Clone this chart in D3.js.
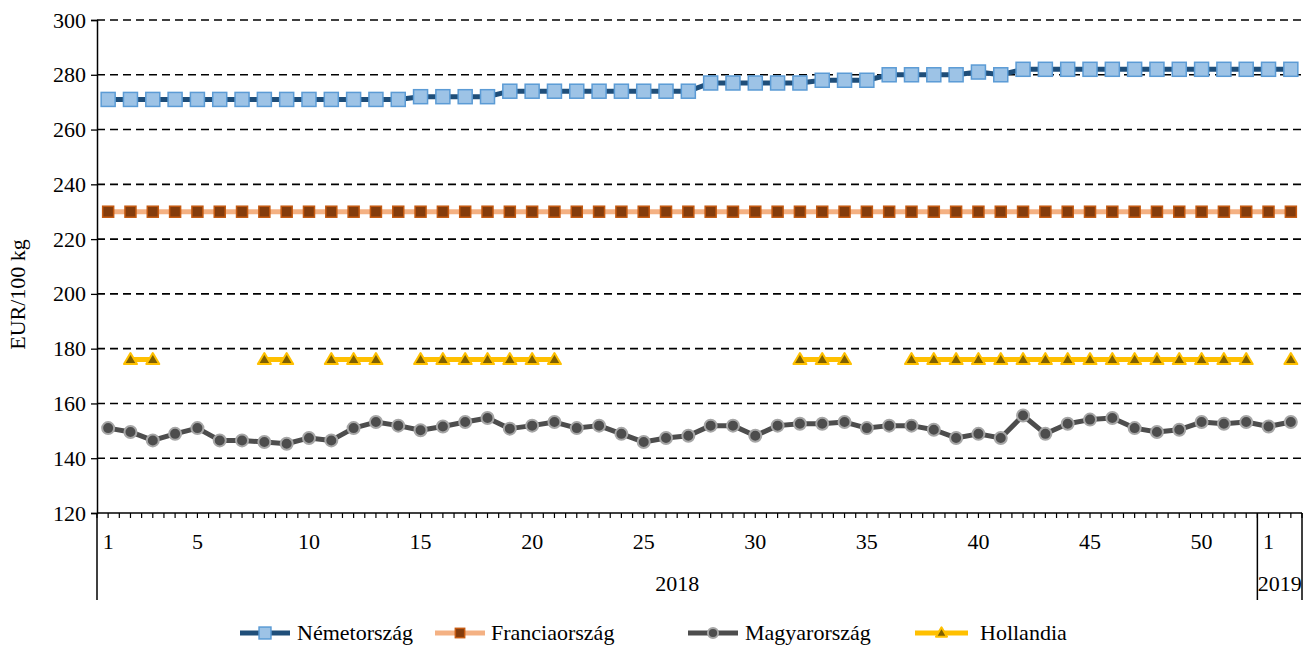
<!DOCTYPE html>
<html><head><meta charset="utf-8">
<script src="https://cdn.jsdelivr.net/npm/d3@7"></script>
<style>
html,body{margin:0;padding:0;background:#fff;}
svg text{font-family:"Liberation Serif","Times New Roman","DejaVu Serif",serif !important;fill:#000;}
</style></head>
<body><svg id="c" width="1305" height="647"></svg>
<script>
// ---- data ----
const yearLabels = ["2018", "2019"];
const yearWeekCounts = [52, 2];
const weekNumbers = [1,2,3,4,5,6,7,8,9,10,11,12,13,14,15,16,17,18,19,20,21,22,23,24,25,26,
  27,28,29,30,31,32,33,34,35,36,37,38,39,40,41,42,43,44,45,46,47,48,49,50,51,52,1,2];
const shownWeekLabels = ["1","5","10","15","20","25","30","35","40","45","50","1",""];
const yTicks = [120,140,160,180,200,220,240,260,280,300];

const germany = [271,271,271,271,271,271,271,271,271,271,271,271,271,271,
  272,272,272,272,274,274,274,274,274,274,274,274,274,277,277,277,277,277,
  278,278,278,280,280,280,280,281,280,282,282,282,282,282,282,282,282,282,282,282,282,282];
const france = [230,230,230,230,230,230,230,230,230,230,230,230,230,230,230,230,230,230,
  230,230,230,230,230,230,230,230,230,230,230,230,230,230,230,230,230,230,
  230,230,230,230,230,230,230,230,230,230,230,230,230,230,230,230,230,230];
const hungary = [151.0,149.6,146.5,148.9,151.0,146.5,146.5,145.9,145.3,147.4,
  146.5,151.0,153.2,151.9,150.2,151.6,153.2,154.7,150.8,151.9,
  153.2,151.0,151.9,148.9,145.9,147.4,148.2,151.9,151.9,148.2,
  151.9,152.6,152.6,153.2,151.0,151.9,151.9,150.4,147.4,148.9,
  147.4,155.6,148.9,152.6,154.1,154.7,151.0,149.6,150.4,153.2,
  152.6,153.2,151.6,153.2];
const netherlands = [null,176,176,null,null,null,null,176,176,null,176,176,176,null,
  176,176,176,176,176,176,176,null,null,null,null,null,null,null,null,null,null,
  176,176,176,null,null,176,176,176,176,176,176,176,176,176,176,176,176,176,176,176,176,null,176];

const seriesNames = ["Németország","Franciaország","Magyarország","Hollandia"];

// ---- layout ----
const FS = "22px";
const svg = d3.select("#c");
const L = 97, R = 1302, T = 20, B = 513;
const idx = d3.range(weekNumbers.length);
const x = d3.scaleBand().domain(idx).range([L, R]).paddingInner(0).paddingOuter(0);
const cx = i => x(i) + x.bandwidth() / 2;
const y = d3.scaleLinear().domain([120, 300]).range([B, T]);

// gridlines
svg.append("g").selectAll("line").data(yTicks.filter(v => v > 120)).join("line")
  .attr("x1", L).attr("x2", R).attr("y1", d => y(d)).attr("y2", d => y(d))
  .attr("stroke", "#000").attr("stroke-width", 1.6).attr("stroke-dasharray", "8,5");

// y axis
const yAxis = svg.append("g").attr("transform", `translate(${L},0)`)
  .call(d3.axisLeft(y).tickValues(yTicks).tickSize(6).tickPadding(5));
yAxis.attr("font-family", null).attr("font-size", null);
yAxis.select(".domain").attr("stroke", "#000").attr("stroke-width", 1.5);
yAxis.selectAll(".tick line").attr("stroke", "#000").attr("stroke-width", 1.3);
yAxis.selectAll("text").style("font-size", FS);

svg.append("text").attr("transform", `translate(25,${(T + B) / 2 + 28}) rotate(-90)`)
  .attr("text-anchor", "middle").style("font-size", FS).text("EUR/100 kg");

// x axis
const xg = svg.append("g");
xg.append("line").attr("x1", L).attr("x2", R).attr("y1", B).attr("y2", B)
  .attr("stroke", "#000").attr("stroke-width", 1.5);
const half = x.bandwidth() / 2;
const tickPos = d3.range(idx.length * 2 + 1).map(k => L + k * half);
xg.selectAll("line.t").data(tickPos).join("line").attr("class", "t")
  .attr("x1", d => d).attr("x2", d => d).attr("y1", B).attr("y2", B + 5)
  .attr("stroke", "#000").attr("stroke-width", 1.2);
// week labels
let labelCursor = 0;
idx.forEach(i => {
  const w = weekNumbers[i];
  if (w === 1 || w % 5 === 0) {
    xg.append("text").attr("x", cx(i)).attr("y", 549).attr("text-anchor", "middle")
      .style("font-size", FS).text(shownWeekLabels[labelCursor++]);
  }
});
// year groups
let start = 0;
const sepXs = [L];
yearLabels.forEach((yl, k) => {
  const x0 = x(start), x1 = x(start + yearWeekCounts[k] - 1) + x.bandwidth();
  sepXs.push(x1);
  xg.append("text").attr("x", (x0 + x1) / 2).attr("y", 591).attr("text-anchor", "middle")
    .style("font-size", FS).text(yl);
  start += yearWeekCounts[k];
});
xg.selectAll("line.sep").data(sepXs).join("line").attr("class", "sep")
  .attr("x1", d => d).attr("x2", d => d).attr("y1", B).attr("y2", 600)
  .attr("stroke", "#000").attr("stroke-width", 1.5);

// ---- series ----
const styles = [
  {data: germany, line: "#1F4E79", fill: "#9DC3E6", stroke: "#5B9BD5", shape: "square", size: 14},
  {data: france, line: "#F4B183", fill: "#843C0C", stroke: "#C55A11", shape: "square", size: 11},
  {data: hungary, line: "#4D4D4D", fill: "#4D4D4D", stroke: "#A6A6A6", shape: "circle", size: 12},
  {data: netherlands, line: "#FFC000", fill: "#7F6000", stroke: "#FFC000", shape: "triangle", size: 13}
];

function marker(g, s, px, py, scale) {
  const sz = s.size * (scale || 1);
  if (s.shape === "square") {
    g.append("rect").attr("x", px - sz / 2).attr("y", py - sz / 2).attr("width", sz).attr("height", sz)
      .attr("fill", s.fill).attr("stroke", s.stroke).attr("stroke-width", 1.5);
  } else if (s.shape === "circle") {
    g.append("circle").attr("cx", px).attr("cy", py).attr("r", sz / 2)
      .attr("fill", s.fill).attr("stroke", s.stroke).attr("stroke-width", 2);
  } else {
    const h = sz * 0.85;
    g.append("path").attr("d", `M${px},${py - h * 0.6}L${px + sz / 2},${py + h * 0.4}L${px - sz / 2},${py + h * 0.4}Z`)
      .attr("fill", s.fill).attr("stroke", s.stroke).attr("stroke-width", 2).attr("stroke-linejoin", "round");
  }
}

// draw in order: france, netherlands, hungary, germany
[1, 3, 2, 0].forEach(k => {
  const s = styles[k];
  const g = svg.append("g");
  const line = d3.line().defined(d => d != null).x((d, i) => cx(i)).y(d => y(d));
  g.append("path").datum(s.data).attr("d", line).attr("fill", "none")
    .attr("stroke", s.line).attr("stroke-width", 5).attr("stroke-linejoin", "round");
  s.data.forEach((v, i) => { if (v != null) marker(g, s, cx(i), y(v)); });
});

// ---- legend ----
const legendItems = [
  {x: 240, tx: 297}, {x: 435, tx: 491}, {x: 688, tx: 745}, {x: 915, tx: 980}
];
const ly = 633;
legendItems.forEach((it, k) => {
  const s = styles[k];
  const g = svg.append("g");
  const len = k === 3 ? 53 : 50;
  g.append("line").attr("x1", it.x).attr("x2", it.x + len).attr("y1", ly).attr("y2", ly)
    .attr("stroke", s.line).attr("stroke-width", 5);
  marker(g, s, it.x + len / 2, ly, 0.85);
  g.append("text").attr("x", it.tx).attr("y", ly + 7).style("font-size", FS).text(seriesNames[k]);
});
</script>
</body></html>
